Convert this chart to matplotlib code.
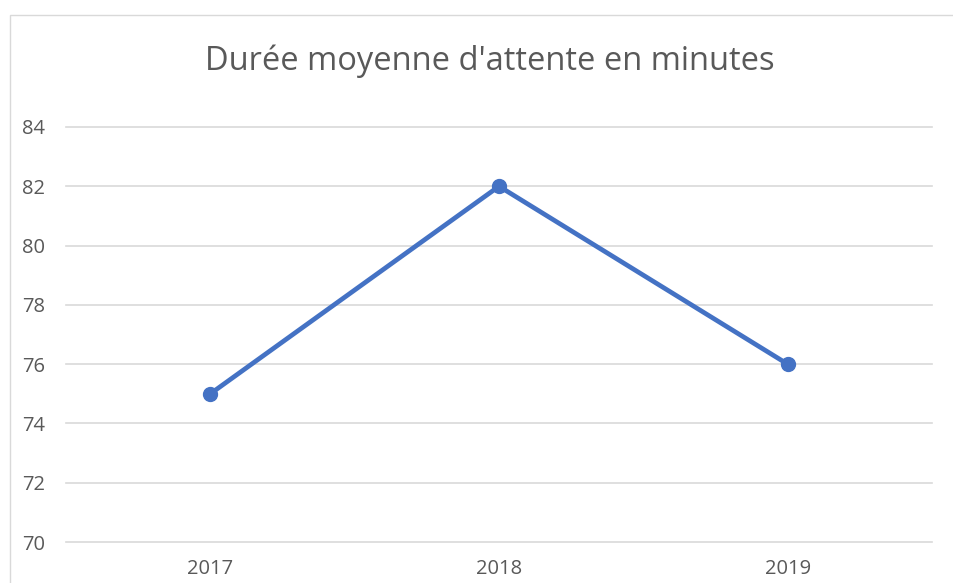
import matplotlib
matplotlib.use('Agg')
import matplotlib.pyplot as plt
from matplotlib.patches import Rectangle

# ── Data ────────────────────────────────────────────────────────────────────
years = ['2017', '2018', '2019']
waits = [75, 82, 76]
y_ticks = [70, 72, 74, 76, 78, 80, 82, 84]

TITLE = "Durée moyenne d'attente en minutes"
BLUE = '#4472C4'
GREY_TXT = '#595959'
GRID = '#d9d9d9'

plt.rcParams['font.family'] = ['Open Sans', 'DejaVu Sans']

W, H = 954, 583
fig = plt.figure(figsize=(W / 100, H / 100), dpi=100)

# outer chart border (cropped on right and bottom like the reference)
fig.patches.append(Rectangle((10 / W, -0.05), 1.1, 1 - 15 / H + 0.05,
                             transform=fig.transFigure, fill=False,
                             edgecolor=GRID, linewidth=1.0))

ax = fig.add_axes([66 / W, (H - 542) / H, (932 - 66) / W, (542 - 127) / H])

x = range(len(years))
ax.plot(x, waits, color=BLUE, linewidth=3.4, marker='o', markersize=10,
        solid_capstyle='round', zorder=3)

ax.set_xlim(-0.5, len(years) - 0.5)
ax.set_ylim(70, 84)
ax.set_xticks(list(x))
ax.set_xticklabels(years)
ax.set_yticks(y_ticks)
ax.grid(True, axis='y', color=GRID, linewidth=1.2)
for gl in ax.get_ygridlines():
    gl.set_clip_on(False)
ax.set_axisbelow(True)
for s in ax.spines.values():
    s.set_visible(False)
ax.tick_params(length=0, labelsize=14.5, colors=GREY_TXT)
ax.tick_params(axis='y', pad=15)
ax.tick_params(axis='x', pad=12)

fig.text(490 / W, (H - 61) / H, TITLE, ha='center', va='center',
         fontsize=23.5, color=GREY_TXT)

fig.savefig('out.png', dpi=100, facecolor='white')
